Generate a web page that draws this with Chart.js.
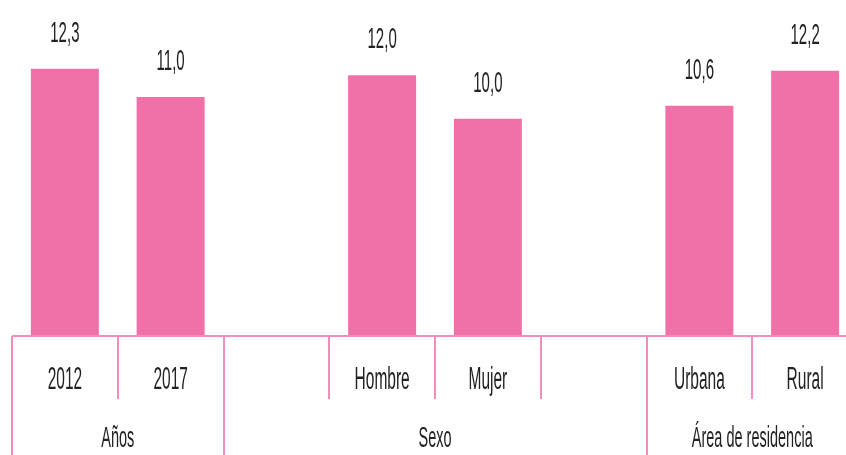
<!DOCTYPE html>
<html>
<head>
<meta charset="utf-8">
<script src="https://cdn.jsdelivr.net/npm/chart.js@4/dist/chart.umd.min.js"></script>
<style>
	body { margin: 0; background: #fff; }
	#wrap { width: 846px; height: 455px; overflow: hidden; }
</style>
</head>
<body>
<div id="wrap"><canvas id="chart" width="860" height="455"></canvas></div>
<script>
// slots, empty ones are the gaps between groups
const categories = ['2012', '2017', '', 'Hombre', 'Mujer', '', 'Urbana', 'Rural'];
const values = [12.3, 11.0, null, 12.0, 10.0, null, 10.6, 12.2];
const groups = ['Años', 'Sexo', 'Área de residencia'];
const groupStart = [0, 2, 6];
const groupEnd = [1, 5, 7];

const pink = '#f070a8';
const linePink = '#f28dbb';
const textColor = '#222';
const fontFamily = "'Liberation Sans Narrow', 'Liberation Sans', Arial, sans-serif";

// squeezed text, the source uses a very condensed face
function squeezedText(ctx, text, x, y, size) {
	ctx.save();
	ctx.font = size + 'px ' + fontFamily;
	ctx.fillStyle = textColor;
	ctx.textAlign = 'center';
	ctx.textBaseline = 'alphabetic';
	ctx.translate(x, y);
	ctx.scale(0.5, 1);
	ctx.fillText(text, 0, 0);
	ctx.restore();
}

const tablePlugin = {
	id: 'tablePlugin',
	afterDraw(chart) {
		const ctx = chart.ctx;
		const xs = chart.scales.x;
		const area = chart.chartArea;
		const half = (xs.getPixelForValue(1) - xs.getPixelForValue(0)) / 2;
		const baseY = area.bottom;
		const boundary = i => xs.getPixelForValue(i) - half;

		ctx.save();
		ctx.strokeStyle = linePink;
		ctx.lineWidth = 2;
		ctx.beginPath();
		ctx.moveTo(area.left, baseY);
		ctx.lineTo(area.right, baseY);
		for (let i = 0; i <= categories.length; i++) {
			const x = Math.round(boundary(i));
			const isGroup = groupStart.includes(i) || i === categories.length;
			ctx.moveTo(x, baseY);
			ctx.lineTo(x, isGroup ? chart.height : baseY + 63);
		}
		ctx.stroke();
		ctx.restore();

		// category labels
		categories.forEach((c, i) => {
			if (c) squeezedText(ctx, c, xs.getPixelForValue(i), baseY + 53, 31);
		});
		// group labels
		groups.forEach((g, k) => {
			const x = (boundary(groupStart[k]) + boundary(groupEnd[k] + 1)) / 2;
			squeezedText(ctx, g, x, baseY + 111, 29);
		});
		// value labels
		const meta = chart.getDatasetMeta(0);
		meta.data.forEach((bar, i) => {
			if (values[i] === null) return;
			squeezedText(ctx, values[i].toFixed(1).replace('.', ','), bar.x, bar.y - 27, 30);
		});
	}
};

new Chart(document.getElementById('chart'), {
	type: 'bar',
	data: {
		labels: categories,
		datasets: [{
			data: values,
			backgroundColor: pink,
			borderWidth: 0,
			barPercentage: 0.643,
			categoryPercentage: 1
		}]
	},
	options: {
		responsive: false,
		animation: false,
		layout: { padding: { left: 12, right: 2, top: 10, bottom: 119 } },
		plugins: { legend: { display: false }, tooltip: { enabled: false } },
		scales: {
			x: { display: false },
			y: { display: false, min: 0, max: 15 }
		}
	},
	plugins: [tablePlugin]
});
</script>
</body>
</html>
